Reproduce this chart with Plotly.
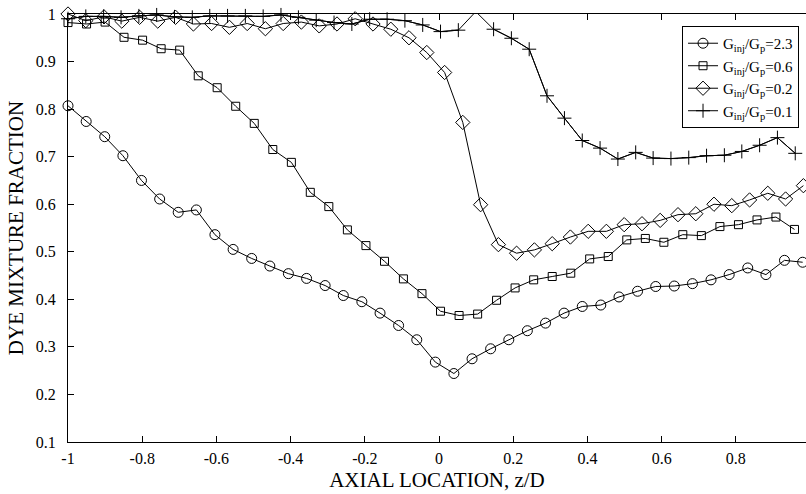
import plotly.graph_objects as go

# Axial positions (z/D) and dye mixture fractions for each injection ratio
z_23 = [-1.000, -0.951, -0.901, -0.852, -0.802, -0.753, -0.703, -0.654, -0.604, -0.555,
        -0.505, -0.456, -0.406, -0.357, -0.307, -0.258, -0.208, -0.159, -0.109, -0.060,
        -0.010, 0.040, 0.089, 0.139, 0.188, 0.238, 0.287, 0.337, 0.386, 0.436,
        0.485, 0.535, 0.584, 0.634, 0.683, 0.733, 0.782, 0.832, 0.881, 0.931, 0.980]
f_23 = [0.807, 0.774, 0.742, 0.702, 0.650, 0.611, 0.583, 0.588, 0.536, 0.505,
        0.486, 0.470, 0.454, 0.444, 0.429, 0.408, 0.395, 0.371, 0.345, 0.315,
        0.268, 0.244, 0.275, 0.296, 0.315, 0.334, 0.350, 0.371, 0.385, 0.388,
        0.405, 0.417, 0.427, 0.428, 0.433, 0.441, 0.452, 0.466, 0.452, 0.482, 0.478]

z_06 = [-1.000, -0.950, -0.900, -0.849, -0.799, -0.749, -0.699, -0.649, -0.598, -0.548,
        -0.498, -0.448, -0.398, -0.347, -0.297, -0.247, -0.197, -0.147, -0.096, -0.046,
        0.004, 0.054, 0.104, 0.155, 0.205, 0.255, 0.305, 0.355, 0.406, 0.456,
        0.506, 0.556, 0.606, 0.657, 0.707, 0.757, 0.807, 0.857, 0.908, 0.958]
f_06 = [0.982, 0.979, 0.983, 0.951, 0.945, 0.927, 0.924, 0.870, 0.845, 0.806,
        0.770, 0.715, 0.688, 0.625, 0.595, 0.546, 0.513, 0.480, 0.443, 0.412,
        0.375, 0.366, 0.369, 0.398, 0.424, 0.441, 0.448, 0.455, 0.485, 0.490,
        0.525, 0.528, 0.520, 0.536, 0.534, 0.553, 0.557, 0.567, 0.573, 0.547]

z_02 = [-1.000, -0.952, -0.903, -0.855, -0.807, -0.758, -0.710, -0.662, -0.613, -0.565,
        -0.517, -0.468, -0.420, -0.371, -0.323, -0.275, -0.226, -0.178, -0.130, -0.081,
        -0.033, 0.015, 0.064, 0.112, 0.160, 0.209, 0.257, 0.305, 0.354, 0.402,
        0.451, 0.499, 0.547, 0.596, 0.644, 0.692, 0.741, 0.789, 0.837, 0.886, 0.934, 0.982]
f_02 = [1.000, 0.986, 0.994, 0.985, 0.993, 0.985, 0.993, 0.979, 0.980, 0.972,
        0.980, 0.969, 0.980, 0.983, 0.975, 0.979, 0.990, 0.979, 0.968, 0.950,
        0.919, 0.877, 0.772, 0.599, 0.515, 0.497, 0.504, 0.517, 0.531, 0.543,
        0.543, 0.557, 0.559, 0.566, 0.578, 0.580, 0.600, 0.597, 0.609, 0.623, 0.611, 0.639]

z_01 = [-1.000, -0.952, -0.904, -0.857, -0.809, -0.761, -0.713, -0.665, -0.618, -0.570,
        -0.522, -0.474, -0.426, -0.379, -0.331, -0.283, -0.235, -0.187, -0.140, -0.092,
        -0.044, 0.004, 0.052, 0.099, 0.147, 0.195, 0.243, 0.291, 0.338, 0.386,
        0.434, 0.482, 0.530, 0.577, 0.625, 0.673, 0.721, 0.769, 0.816, 0.864, 0.912, 0.960]
f_01 = [0.990, 0.995, 0.995, 0.993, 0.996, 0.998, 0.994, 0.993, 0.996, 0.996,
        0.996, 0.995, 0.998, 0.993, 0.987, 0.982, 0.979, 0.989, 0.989, 0.986,
        0.977, 0.963, 0.966, 1.005, 0.968, 0.949, 0.926, 0.828, 0.781, 0.734,
        0.718, 0.695, 0.709, 0.697, 0.696, 0.698, 0.702, 0.703, 0.711, 0.724, 0.740, 0.707]

series_names = ["G<sub>inj</sub>/G<sub>p</sub>=2.3", "G<sub>inj</sub>/G<sub>p</sub>=0.6",
                "G<sub>inj</sub>/G<sub>p</sub>=0.2", "G<sub>inj</sub>/G<sub>p</sub>=0.1"]

x_ticks = [-1, -0.8, -0.6, -0.4, -0.2, 0, 0.2, 0.4, 0.6, 0.8]
x_tick_text = ["-1", "-0.8", "-0.6", "-0.4", "-0.2", "0", "0.2", "0.4", "0.6", "0.8"]
y_ticks = [0.1, 0.2, 0.3, 0.4, 0.5, 0.6, 0.7, 0.8, 0.9, 1.0]
y_tick_text = ["0.1", "0.2", "0.3", "0.4", "0.5", "0.6", "0.7", "0.8", "0.9", "1"]

Y_MIN, Y_MAX = 0.1, 1.0
FONT = "Liberation Serif"

fig = go.Figure()

def add_series(x, y, name, symbol, size):
    fig.add_trace(go.Scatter(
        x=x, y=y, name=name, mode="lines+markers",
        line=dict(color="black", width=1),
        marker=dict(symbol=symbol, size=size, color="black",
                    line=dict(color="black", width=1)),
        cliponaxis=False,
    ))

add_series(z_23, f_23, series_names[0], "circle-open", 10)
add_series(z_06, f_06, series_names[1], "square-open", 8)
add_series(z_02, f_02, series_names[2], "diamond-open", 11)

# Full line for the 0.1 case (points above the axis limit are clipped)
fig.add_trace(go.Scatter(
    x=z_01, y=f_01, mode="lines", showlegend=False, hoverinfo="skip",
    line=dict(color="black", width=1),
))
# Markers only for the points inside the axis limits
f_01_visible = [v if v <= Y_MAX else None for v in f_01]
add_series(z_01, f_01_visible, series_names[3], "cross-thin-open", 10)

fig.update_layout(
    width=806, height=494,
    margin=dict(l=68, r=0, t=14, b=52),
    paper_bgcolor="white", plot_bgcolor="white",
    font=dict(family=FONT, size=16, color="black"),
    showlegend=True,
    legend=dict(
        x=0.832, y=0.972, xanchor="left", yanchor="top",
        bgcolor="white", bordercolor="black", borderwidth=1,
        font=dict(family=FONT, size=15, color="black"),
        tracegroupgap=0,
    ),
    xaxis=dict(
        range=[-1, 0.989], tickvals=x_ticks, ticktext=x_tick_text,
        showline=True, linecolor="black", linewidth=1, mirror="ticks",
        ticks="inside", ticklen=6, tickcolor="black", tickwidth=1,
        showgrid=False, zeroline=False, ticklabelstandoff=2,
        title=dict(text="AXIAL LOCATION, z/D", font=dict(family=FONT, size=21), standoff=6),
        tickfont=dict(family=FONT, size=16),
    ),
    yaxis=dict(
        range=[Y_MIN, Y_MAX], tickvals=y_ticks, ticktext=y_tick_text,
        showline=True, linecolor="black", linewidth=1, mirror=False,
        ticks="inside", ticklen=6, tickcolor="black", tickwidth=1,
        showgrid=False, zeroline=False, ticklabelstandoff=8,
        title=dict(text="DYE MIXTURE FRACTION", font=dict(family=FONT, size=21), standoff=6),
        tickfont=dict(family=FONT, size=16),
    ),
    yaxis2=dict(
        overlaying="y", side="right", range=[Y_MIN, Y_MAX], tickvals=y_ticks,
        showticklabels=False, showline=False, showgrid=False, zeroline=False,
        ticks="inside", ticklen=6, tickcolor="black", tickwidth=1,
    ),
)

fig.write_html("out.html")
